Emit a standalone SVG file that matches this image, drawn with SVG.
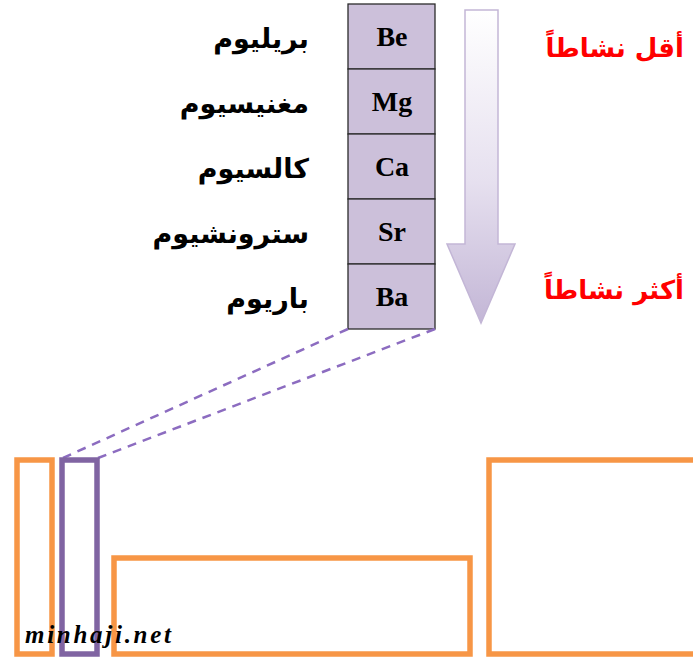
<svg xmlns="http://www.w3.org/2000/svg" width="693" height="660" viewBox="0 0 693 660">
  <defs>
    <linearGradient id="arrowGrad" x1="0" y1="0" x2="0" y2="1">
      <stop offset="0" stop-color="#ffffff"/>
      <stop offset="0.55" stop-color="#e6e0ef"/>
      <stop offset="1" stop-color="#c3b6d6"/>
    </linearGradient>
    <style>
      .cell { fill: #ccc0da; stroke: #2b2b2b; stroke-width: 1.3; }
      .sym { font-family: "Liberation Serif", serif; font-weight: bold; font-size: 28px; fill: #000; text-anchor: middle; }
      .ar { font-family: "DejaVu Sans", sans-serif; font-weight: bold; font-size: 27px; fill: #000; text-anchor: end; }
      .red { font-family: "DejaVu Sans", sans-serif; font-weight: bold; font-size: 26px; fill: #ff0000; text-anchor: end; }
      .orange { fill: none; stroke: #f79646; stroke-width: 5.5; }
      .purple { fill: none; stroke: #8064a2; stroke-width: 5.5; }
      .dash { stroke: #8c6cc0; stroke-width: 2.5; stroke-dasharray: 9 7; fill: none; }
    </style>
  </defs>
  <rect width="693" height="660" fill="#ffffff"/>

  <g id="arrow">
    <path d="M465,10 L498,10 L498,244 L515,244 L481,323 L447,244 L465,244 Z" fill="url(#arrowGrad)" stroke="#c3b6d6" stroke-width="1.5"/>
  </g>

  <g id="table">
    <g id="cell-be"><rect class="cell" x="348" y="4" width="87" height="65"/><text class="sym" x="392" y="46">Be</text></g>
    <g id="cell-mg"><rect class="cell" x="348" y="69" width="87" height="65"/><text class="sym" x="392" y="111">Mg</text></g>
    <g id="cell-ca"><rect class="cell" x="348" y="134" width="87" height="65"/><text class="sym" x="392" y="176">Ca</text></g>
    <g id="cell-sr"><rect class="cell" x="348" y="199" width="87" height="65"/><text class="sym" x="392" y="241">Sr</text></g>
    <g id="cell-ba"><rect class="cell" x="348" y="264" width="87" height="65"/><text class="sym" x="392" y="306">Ba</text></g>
  </g>

  <g id="names">
    <text class="ar" x="309" y="48">بريليوم</text>
    <text class="ar" x="309" y="113">مغنيسيوم</text>
    <text class="ar" x="309" y="178">كالسيوم</text>
    <text class="ar" x="309" y="243">سترونشيوم</text>
    <text class="ar" x="309" y="308">باريوم</text>
  </g>

  <g id="activity">
    <text class="red" x="684" y="57">أقل نشاطاً</text>
    <text class="red" x="684" y="299">أكثر نشاطاً</text>
  </g>

  <g id="connectors">
    <line class="dash" x1="348" y1="329" x2="63" y2="458"/>
    <line class="dash" x1="435" y1="329" x2="98" y2="458"/>
  </g>

  <g id="block-s1"><rect class="orange" x="17" y="460" width="35" height="194"/></g>
  <g id="block-s2"><rect class="purple" x="62" y="460" width="35" height="194"/></g>
  <g id="block-d"><rect class="orange" x="114" y="558" width="356" height="96"/></g>
  <g id="block-p"><rect class="orange" x="489" y="460" width="215" height="194"/></g>

  <text x="25" y="643" font-family="Liberation Serif, serif" font-style="italic" font-weight="bold" font-size="25" fill="#000" textLength="146">minhaji.net</text>
</svg>
